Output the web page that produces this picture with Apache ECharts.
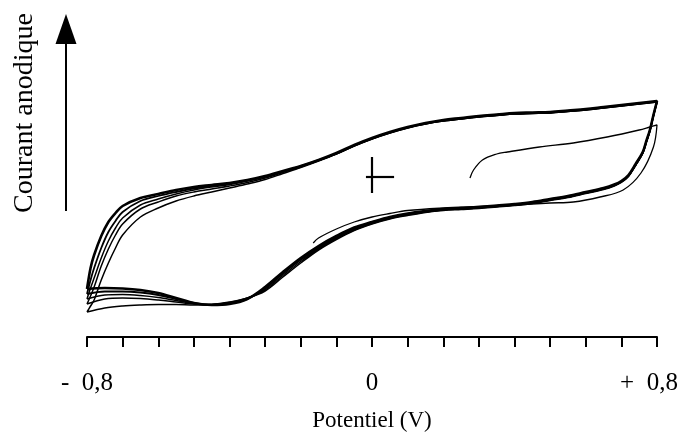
<!DOCTYPE html>
<html>
<head>
<meta charset="utf-8">
<script src="https://cdn.jsdelivr.net/npm/echarts@6/dist/echarts.min.js"></script>
<style>
  html, body { margin: 0; padding: 0; background: #fff; }
  #chart { width: 680px; height: 432px; }
</style>
</head>
<body>
<div id="chart"></div>
<script>
// Potential grid of the anodic (forward) and cathodic (return) sweeps, in V
const POTENTIAL_UP = [-0.8, -0.79, -0.78, -0.76, -0.74, -0.72, -0.7, -0.65, -0.6, -0.55, -0.5, -0.45, -0.4, -0.35, -0.3, -0.25, -0.2, -0.15, -0.1, -0.05, 0, 0.05, 0.1, 0.15, 0.2, 0.25, 0.3, 0.35, 0.4, 0.45, 0.5, 0.55, 0.6, 0.65, 0.7, 0.75, 0.8];
const POTENTIAL_DOWN = [0.8, 0.79, 0.78, 0.77, 0.76, 0.74, 0.72, 0.7, 0.68, 0.65, 0.6, 0.55, 0.5, 0.45, 0.4, 0.35, 0.3, 0.25, 0.2, 0.15, 0.1, 0.05, 0, -0.05, -0.1, -0.15, -0.2, -0.25, -0.3, -0.35, -0.4, -0.45, -0.5, -0.55, -0.6, -0.65, -0.7, -0.75, -0.8];

// Current (arbitrary units) for each recorded cycle
const CYCLE_A_UP = [-11.2, -9.1, -7.8, -5.9, -4.5, -3.6, -2.9, -2.1, -1.7, -1.3, -1.0, -0.8, -0.6, -0.3, 0.1, 0.6, 1.1, 1.7, 2.4, 3.2, 3.9, 4.5, 5.0, 5.4, 5.7, 5.9, 6.1, 6.25, 6.4, 6.45, 6.5, 6.65, 6.8, 7.0, 7.2, 7.4, 7.6];
const CYCLE_A_DOWN = [7.6, 6.2, 4.7, 3.6, 2.5, 1.3, 0.2, -0.4, -0.75, -1.1, -1.5, -1.9, -2.2, -2.5, -2.7, -2.85, -3.0, -3.1, -3.2, -3.4, -3.65, -4.0, -4.5, -5.05, -5.9, -6.9, -8.1, -9.5, -11.0, -12.2, -12.7, -12.8, -12.6, -12.1, -11.6, -11.3, -11.15, -11.1, -11.2];

const CYCLE_B_UP = [-11.7, -10.3, -9.1, -7.1, -5.5, -4.4, -3.5, -2.4, -1.9, -1.5, -1.15, -0.9, -0.65, -0.35, 0.05, 0.55, 1.1, 1.7, 2.35, 3.15, 3.85, 4.45, 4.95, 5.35, 5.65, 5.85, 6.05, 6.2, 6.35, 6.4, 6.45, 6.6, 6.75, 6.95, 7.15, 7.35, 7.55];
const CYCLE_B_DOWN = [7.55, 6.15, 4.65, 3.55, 2.45, 1.25, 0.15, -0.45, -0.8, -1.15, -1.55, -1.95, -2.25, -2.55, -2.75, -2.9, -3.05, -3.15, -3.25, -3.45, -3.7, -4.05, -4.55, -5.15, -6.0, -7.0, -8.2, -9.6, -11.1, -12.2, -12.65, -12.8, -12.6, -12.2, -11.8, -11.55, -11.45, -11.45, -11.7];

const CYCLE_C_UP = [-12.2, -11.1, -10.1, -8.1, -6.4, -5.1, -4.1, -2.8, -2.2, -1.7, -1.3, -1.0, -0.75, -0.4, 0.0, 0.5, 1.05, 1.65, 2.3, 3.1, 3.8, 4.4, 4.9, 5.3, 5.6, 5.8, 6.0, 6.15, 6.3, 6.35, 6.4, 6.55, 6.7, 6.9, 7.1, 7.3, 7.5];
const CYCLE_C_DOWN = [7.5, 6.1, 4.6, 3.5, 2.4, 1.2, 0.1, -0.5, -0.85, -1.2, -1.6, -2.0, -2.3, -2.6, -2.8, -2.95, -3.1, -3.2, -3.3, -3.5, -3.75, -4.1, -4.6, -5.25, -6.1, -7.1, -8.3, -9.7, -11.2, -12.15, -12.6, -12.75, -12.65, -12.35, -12.05, -11.85, -11.75, -11.8, -12.2];

const CYCLE_D_UP = [-12.7, -11.9, -11.0, -8.9, -7.2, -5.8, -4.7, -3.2, -2.5, -1.9, -1.5, -1.2, -0.9, -0.55, -0.1, 0.45, 1.0, 1.65, 2.35, 3.15, 3.85, 4.45, 4.95, 5.35, 5.65, 5.85, 6.05, 6.2, 6.35, 6.4, 6.45, 6.6, 6.75, 6.95, 7.15, 7.35, 7.55];
const CYCLE_D_DOWN = [7.55, 6.15, 4.65, 3.5, 2.4, 1.2, 0.1, -0.5, -0.85, -1.2, -1.6, -2.0, -2.3, -2.6, -2.8, -2.95, -3.1, -3.2, -3.3, -3.5, -3.8, -4.15, -4.65, -5.3, -6.15, -7.2, -8.45, -9.85, -11.3, -12.1, -12.55, -12.75, -12.7, -12.5, -12.3, -12.15, -12.1, -12.2, -12.7];

const CYCLE_E_UP = [-13.5, -12.9, -12.3, -10.3, -8.6, -7.1, -5.8, -4.0, -3.1, -2.4, -1.9, -1.5, -1.1, -0.7, -0.25, 0.35, 0.95, 1.6, 2.3, 3.1, 3.8, 4.4, 4.9, 5.3, 5.6, 5.8, 6.0, 6.15, 6.3, 6.35, 6.4, 6.55, 6.7, 6.9, 7.1, 7.3, 7.5];
const CYCLE_E_DOWN = [7.5, 6.1, 4.6, 3.45, 2.35, 1.15, 0.05, -0.55, -0.9, -1.25, -1.65, -2.05, -2.35, -2.65, -2.85, -3.0, -3.15, -3.25, -3.35, -3.55, -3.85, -4.2, -4.7, -5.35, -6.25, -7.3, -8.6, -10.0, -11.4, -12.1, -12.5, -12.75, -12.8, -12.75, -12.75, -12.8, -12.9, -13.1, -13.5];

// First scan, started from open-circuit potential
const FIRST_SCAN_POTENTIAL = [0.275, 0.285, 0.31, 0.35, 0.38, 0.47, 0.565, 0.66, 0.75, 0.78, 0.8, 0.79, 0.755, 0.705, 0.64, 0.565, 0.5, 0.4, 0.3, 0.2, 0.1, 0.05, 0, -0.05, -0.1, -0.15, -0.165];
const FIRST_SCAN_CURRENT = [-0.1, 0.7, 1.7, 2.3, 2.5, 3.0, 3.4, 4.0, 4.7, 5.0, 5.2, 3.0, 0.4, -1.3, -2.0, -2.5, -2.6, -2.8, -2.95, -3.1, -3.35, -3.65, -4.0, -4.5, -5.2, -6.1, -6.6];

// Zero-current reference cross (potential, current)
const ORIGIN_VERTICAL = [[0, 2.0], [0, -1.6]];
const ORIGIN_HORIZONTAL = [[-0.017, 0], [0.062, 0]];

// Potential axis labels
const TICK_LABELS = { '-8': '-  0,8', '0': '0', '8': '+  0,8' };

const SERIF = 'Liberation Serif, Times New Roman, serif';

function cycle(up, down) {
  const pts = POTENTIAL_UP.map((v, i) => [v, up[i]]);
  POTENTIAL_DOWN.forEach((v, i) => { if (i > 0) pts.push([v, down[i]]); });
  return pts;
}

function trace(name, data, width) {
  return {
    name, type: 'line', data, smooth: 0.35, showSymbol: false, symbol: 'none',
    lineStyle: { color: '#000', width }, silent: true, animation: false
  };
}

const chart = echarts.init(document.getElementById('chart'), null, { renderer: 'canvas' });

chart.setOption({
  backgroundColor: '#fff',
  animation: false,
  grid: { left: 87, right: 23, top: 17, bottom: 95, containLabel: false, outerBoundsMode: 'none' },
  xAxis: {
    type: 'value', min: -0.8, max: 0.8, interval: 0.1,
    name: 'Potentiel (V)', nameLocation: 'middle', nameGap: 72,
    nameTextStyle: { fontFamily: SERIF, fontSize: 23, color: '#000' },
    axisLine: { onZero: false, lineStyle: { color: '#000', width: 2 } },
    axisTick: { length: 10, lineStyle: { color: '#000', width: 2 } },
    splitLine: { show: false },
    axisLabel: {
      margin: 34, fontFamily: SERIF, fontSize: 25, color: '#000', showMinLabel: true, showMaxLabel: true,
      formatter: v => {
        const k = String(Math.round(v * 10));
        if (!(k in TICK_LABELS)) return '';
        return k === '8' ? '{mx|' + TICK_LABELS[k] + '}' : '{n|' + TICK_LABELS[k] + '}';
      },
      rich: {
        n: { fontFamily: SERIF, fontSize: 25, color: '#000' },
        mx: { fontFamily: SERIF, fontSize: 25, color: '#000', padding: [0, 16, 0, 0] }
      }
    }
  },
  yAxis: { type: 'value', min: -16, max: 16, show: false },
  series: [
    trace('Cycle E', cycle(CYCLE_E_UP, CYCLE_E_DOWN), 1.5),
    trace('Cycle D', cycle(CYCLE_D_UP, CYCLE_D_DOWN), 1.5),
    trace('Cycle C', cycle(CYCLE_C_UP, CYCLE_C_DOWN), 1.5),
    trace('Cycle B', cycle(CYCLE_B_UP, CYCLE_B_DOWN), 1.8),
    trace('Cycle A', cycle(CYCLE_A_UP, CYCLE_A_DOWN), 2.6),
    trace('Premier balayage', FIRST_SCAN_POTENTIAL.map((v, i) => [v, FIRST_SCAN_CURRENT[i]]), 1.3),
    Object.assign(trace('Origine', [], 2), {
      markLine: {
        silent: true, symbol: 'none', label: { show: false },
        lineStyle: { color: '#000', width: 2.2, type: 'solid' },
        data: [
          [{ coord: ORIGIN_VERTICAL[0] }, { coord: ORIGIN_VERTICAL[1] }],
          [{ coord: ORIGIN_HORIZONTAL[0] }, { coord: ORIGIN_HORIZONTAL[1] }]
        ]
      }
    })
  ],
  graphic: [
    { type: 'line', shape: { x1: 66, y1: 211, x2: 66, y2: 40 }, style: { stroke: '#000', lineWidth: 2 } },
    { type: 'polygon', shape: { points: [[66, 14], [55.5, 44], [76.5, 44]] }, style: { fill: '#000' } },
    {
      type: 'text', x: 25, y: 113, rotation: Math.PI / 2,
      style: { text: 'Courant anodique', font: '28px ' + SERIF, fill: '#000', align: 'center', verticalAlign: 'middle' }
    }
  ]
});
</script>
</body>
</html>
